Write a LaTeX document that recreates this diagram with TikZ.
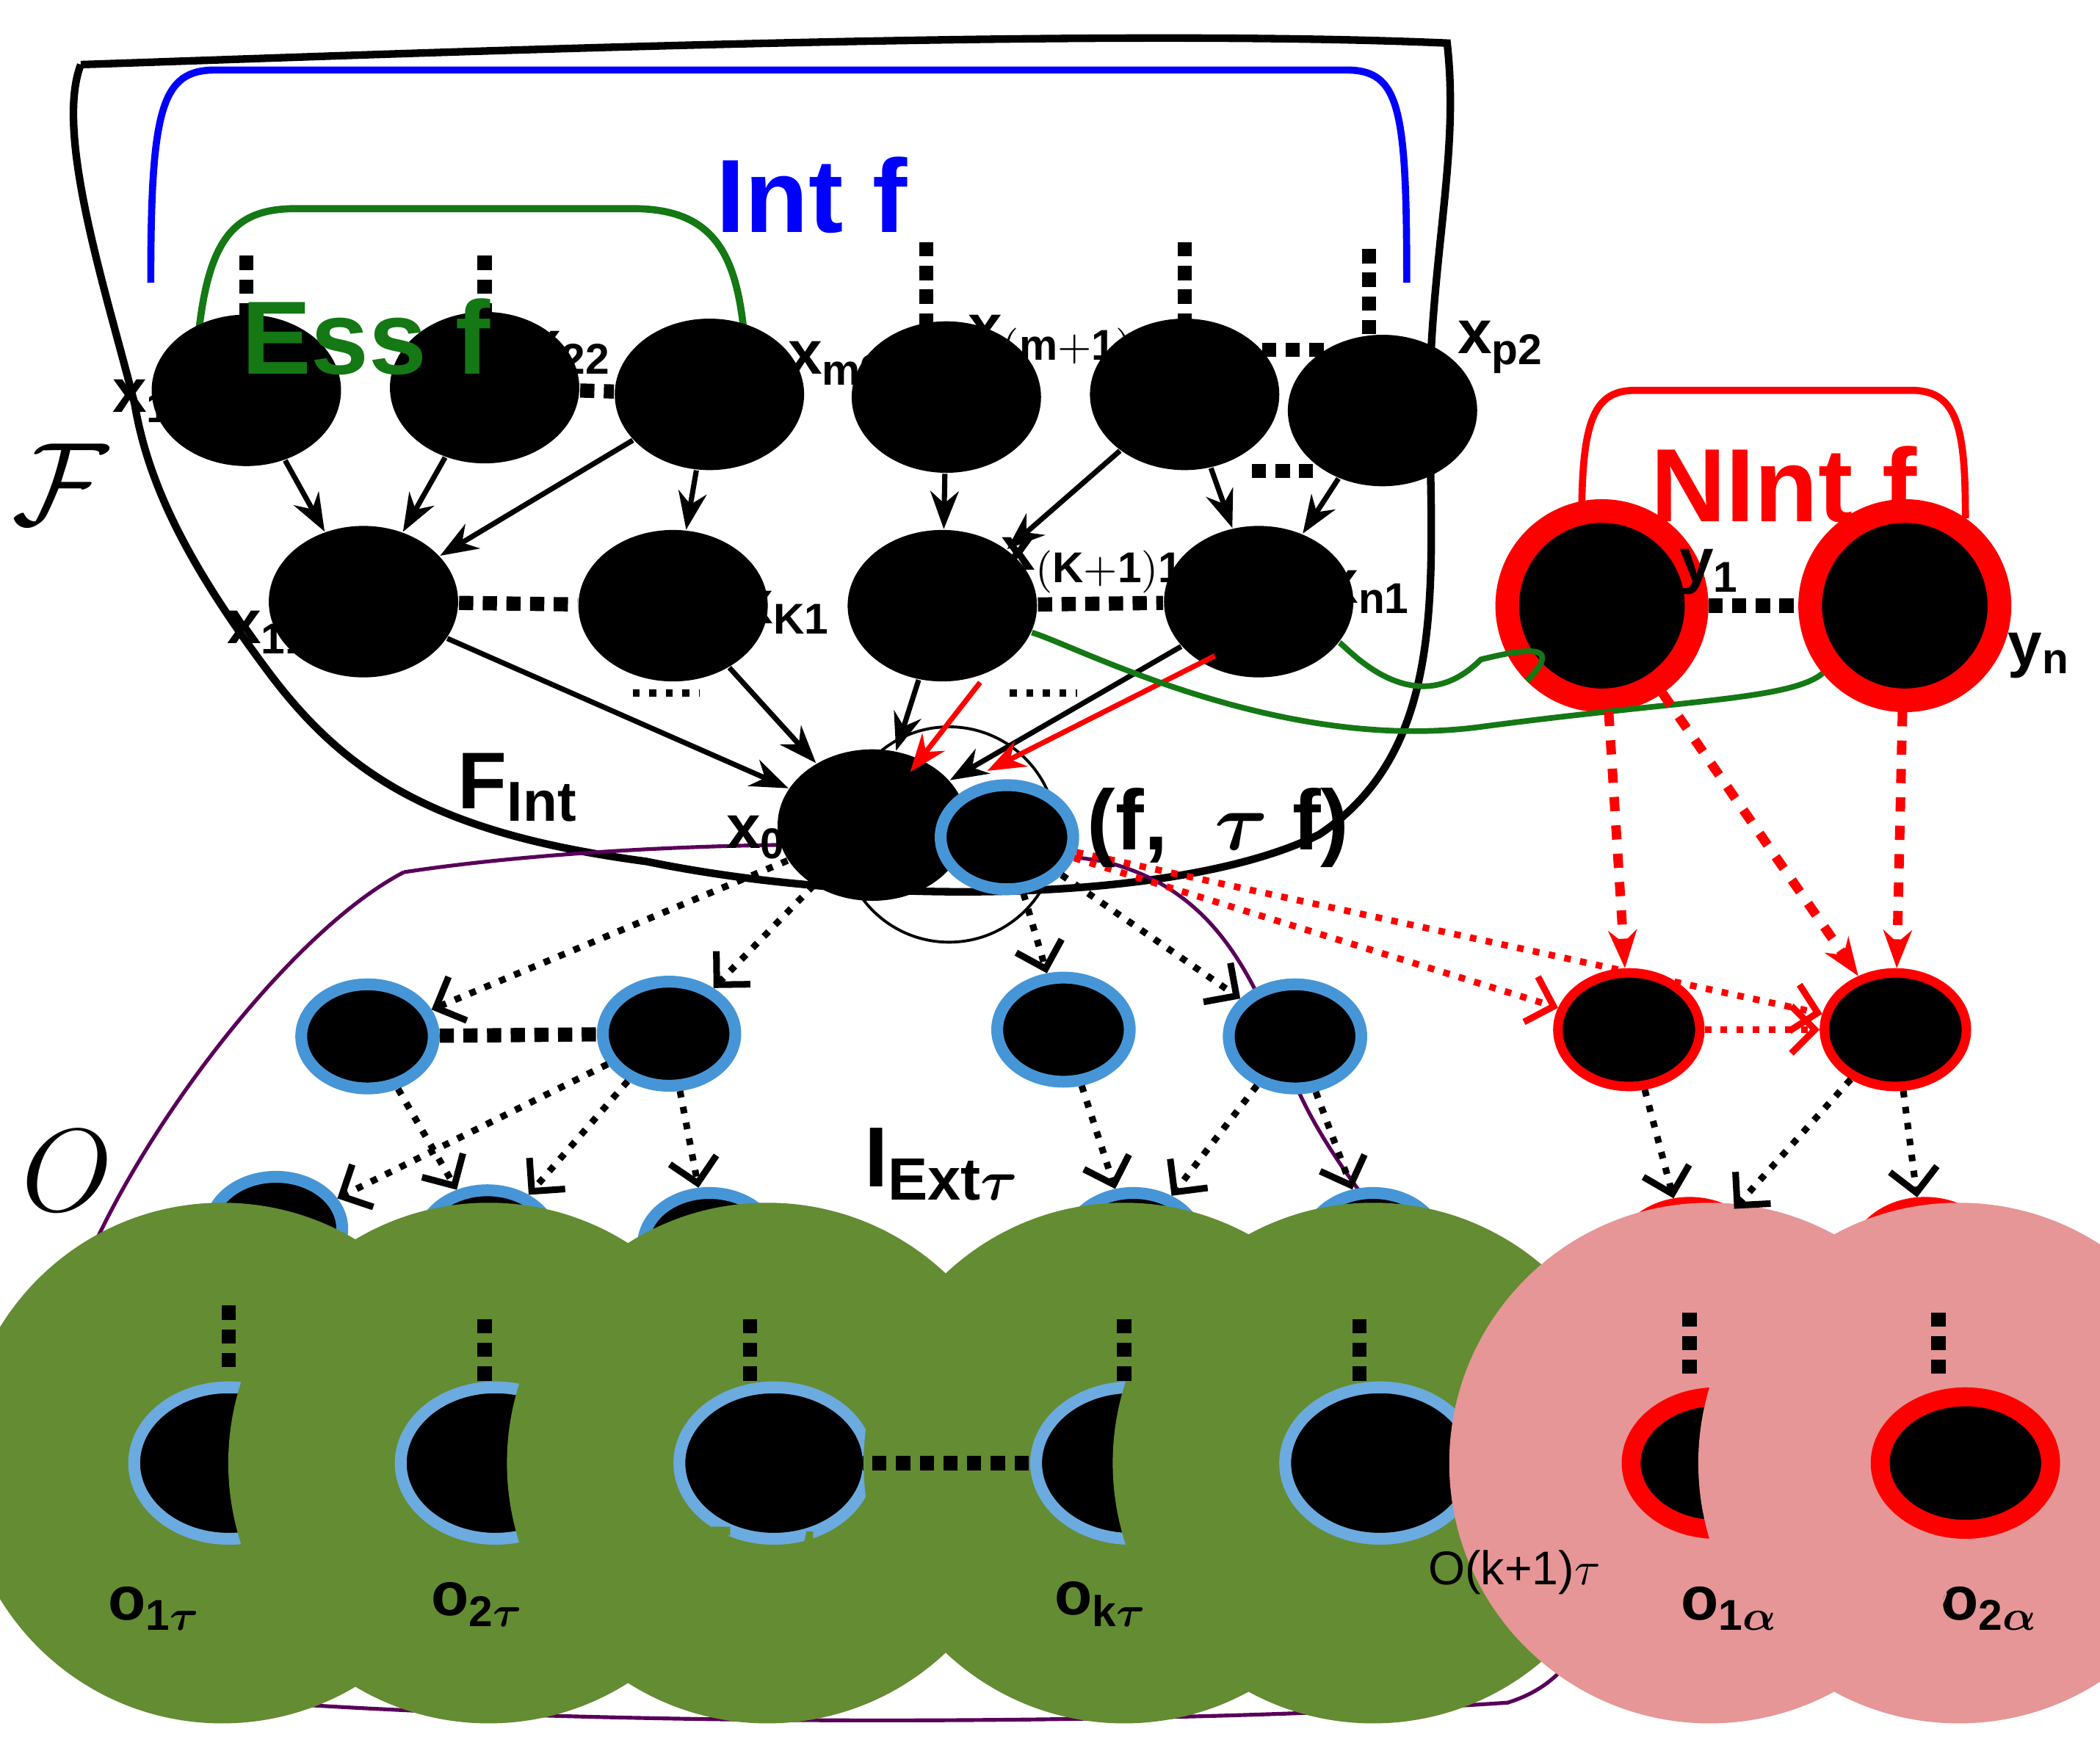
\documentclass[tikz,border=0pt]{standalone}
\usepackage{amsmath,amssymb}
\usepackage{bm}
\usepackage{fontspec}
\setmainfont{Liberation Sans}
\usetikzlibrary{shapes.geometric,arrows.meta}
\definecolor{bl}{RGB}{70,150,215}
\definecolor{gr}{RGB}{100,140,50}
\definecolor{pk}{RGB}{230,150,150}
\definecolor{dg}{RGB}{20,120,20}
\begin{document}
\begin{tikzpicture}[x=0.01cm,y=-0.01cm,
 bn/.style={ellipse,fill=black,minimum width=40,minimum height=32,inner sep=0},
 bu/.style={ellipse,fill=black,draw=bl,line width=2.5pt,minimum width=28,minimum height=22,inner sep=0},
 rr/.style={circle,fill=black,draw=red,line width=5pt,minimum size=40,inner sep=0},
 rs/.style={ellipse,fill=black,draw=red,line width=2pt,minimum width=30,minimum height=24,inner sep=0},
 gc/.style={circle,fill=gr,minimum size=110,inner sep=0},
 pc/.style={circle,fill=pk,minimum size=110,inner sep=0},
 ar/.style={-{Stealth[length=8pt]},line width=1.1pt},
 da/.style={-{Straight Barb[length=5pt]},dotted,line width=1.4pt},
 dd/.style={dotted,line width=3pt},
 lb/.style={font=\bfseries\fontsize{13}{15}\selectfont}]
\useasboundingbox (0,0) rectangle (1560,1290);
% blobs
\draw[line width=1.6pt] (60,48) .. controls (300,40) and (800,20) .. (1075,32) .. controls (1085,120) and (1060,200) .. (1062,320) .. controls (1065,450) and (1070,560) .. (980,620) .. controls (880,670) and (650,675) .. (480,640) .. controls (330,620) and (260,580) .. (200,500) .. controls (140,420) and (110,360) .. (100,300) .. controls (80,220) and (40,100) .. (60,48);
\draw[violet!70!black,line width=0.8pt] (300,648) .. controls (200,700) and (60,900) .. (45,1000) .. controls (40,1100) and (80,1230) .. (200,1265) .. controls (500,1285) and (900,1280) .. (1120,1265) .. controls (1200,1240) and (1190,1150) .. (1170,1100) .. controls (1120,1000) and (1000,900) .. (960,800) .. controls (930,720) and (900,660) .. (820,640) .. controls (700,620) and (450,625) .. (300,648);
\draw[line width=0.6pt] (705,620) circle (80);
% brackets
\draw[blue,line width=1.5pt] (112,210) .. controls (112,80) and (120,52) .. (160,52) -- (1000,52) .. controls (1040,52) and (1045,80) .. (1045,210);
\draw[dg,line width=1.5pt] (145,282) .. controls (150,180) and (170,155) .. (220,155) -- (470,155) .. controls (540,155) and (552,200) .. (555,285);
\draw[red,line width=1.5pt] (1175,385) .. controls (1175,310) and (1185,290) .. (1215,290) -- (1420,290) .. controls (1455,290) and (1460,320) .. (1460,385);
\draw[gr,line width=1.5pt] (148,1140) -- (148,1215) -- (1045,1215) -- (1045,1140);
\draw[pk,line width=1.5pt] (1210,1150) -- (1210,1220) -- (1540,1220) -- (1540,1150);
% nodes
\node[bn] (x12) at (183,290) {};
\node[bn] (x22) at (360,288) {};
\node[bn] (x32) at (527,293) {};
\node[bn] (xm2) at (703,295) {};
\node[bn] (xm12) at (880,293) {};
\node[bn] (xp2) at (1027,305) {};
\node[bn] (x11) at (270,447) {};
\node[bn] (xK1) at (500,450) {};
\node[bn] (xK11) at (700,450) {};
\node[bn] (xn1) at (935,447) {};
\node[bn] (x0) at (648,613) {};
\node[bu] (f) at (748,622) {};
\node[rr] (y1) at (1190,450) {};
\node[rr] (yn) at (1415,450) {};
\node[bu] (a1) at (273,770) {};
\node[bu] (a2) at (497,768) {};
\node[bu] (a3) at (790,765) {};
\node[bu] (a4) at (962,770) {};
\node[rs] (r1) at (1210,765) {};
\node[rs] (r2) at (1408,765) {};
\node[bu] (b1) at (205,913) {};
\node[bu] (b2) at (362,923) {};
\node[bu] (b3) at (527,925) {};
\node[bu] (b4) at (842,925) {};
\node[bu] (b5) at (1020,925) {};
\node[rs] (s1) at (1255,935) {};
\node[rs] (s2) at (1430,935) {};
\foreach \n/\x in {c1/165,c2/363,c3/570,c4/835,c5/1020}{
 \node[gc] (\n) at (\x,1087) {};
 \node[bu,minimum width=40,minimum height=32,draw=bl!80!white] at (\x+5,1087) {};}
\foreach \n/\x in {p1/1270,p2/1455}{
 \node[pc] (\n) at (\x,1087) {};
 \node[ellipse,fill=black,draw=red,line width=4pt,minimum width=36,minimum height=28,inner sep=0] at (\x+5,1087) {};}
% dotted
\draw[dd] (x22) -- (x32); \draw[dd] (x11) -- (xK1); \draw[dd] (xK11) -- (xn1);
\draw[dd] (y1) -- (yn); \draw[dd] (a1) -- (a2); \draw[dd] (c3) -- (c4);
\draw[dd] (920,260) -- (985,260); \draw[dd] (930,350) -- (975,350);
\foreach \x/\y in {183/190,360/190,688/180,880/180,1017/185}{\draw[dd] (\x,\y) -- (\x,\y+65);}
\foreach \x/\y in {170/970,360/980,557/980,835/980,1010/980,1255/975,1440/975}{\draw[dd] (\x,\y) -- (\x,\y+50);}
\draw[dotted,line width=1.5pt] (470,515) -- (520,515); \draw[dotted,line width=1.5pt] (750,515) -- (800,515);
% arrows
\foreach \a/\b in {x12/x11,x22/x11,x32/x11,x32/xK1,xm2/xK11,xm12/xK11,xm12/xn1,xp2/xn1,x11/x0,xK1/x0,xK11/x0,xn1/x0}{\draw[ar] (\a) -- (\b);}
\draw[ar,red] ([xshift=8]xK11.south) -- ([xshift=8,yshift=-5]x0.north);
\draw[ar,red] ([xshift=5]xn1.south west) -- ([xshift=10]x0.north east);
\draw[dg,line width=1.2pt] (xK11) .. controls (800,480) and (950,560) .. (1100,540) .. controls (1250,520) and (1330,520) .. (yn);
\draw[dg,line width=1.2pt] (xn1) .. controls (1000,480) and (1050,540) .. (1100,490) .. controls (1140,480) and (1160,480) .. (y1);
\foreach \b in {r1,r2}{\draw[ar,red,dashed,line width=2pt] (y1) -- (\b);}
\draw[ar,red,dashed,line width=2pt] (yn) -- (r2);
\draw[da,red] (f) -- (r1); \draw[da,red] (f) -- (r2); \draw[da,red] (r1) -- (r2);
\foreach \b in {a1,a2}{\draw[da] (x0) -- (\b);}
\foreach \b in {a3,a4}{\draw[da] (f) -- (\b);}
\foreach \a/\b in {a1/b2,a2/b1,a2/b2,a2/b3,a3/b4,a4/b4,a4/b5,r1/s1,r2/s1,r2/s2}{\draw[da] (\a) -- (\b);}
% labels
\node[lb] at (115,298) {x$_{\mathbf{12}}$};
\node[lb] at (423,262) {x$_{\mathbf{22}}$};
\node[lb] at (622,270) {x$_{\mathbf{m2}}$};
\node[lb] at (790,255) {x$_{\mathbf{(m+1)2}}$};
\node[lb] at (1115,258) {x$_{\mathbf{p2}}$};
\node[lb] at (200,470) {x$_{\mathbf{11}}$};
\node[lb] at (583,455) {x$_{\mathbf{K1}}$};
\node[lb] at (812,420) {x$_{\mathbf{(K+1)1}}$};
\node[lb] at (1016,440) {x$_{\mathbf{n1}}$};
\node[lb] at (1270,425) {y$_{\mathbf{1}}$};
\node[lb] at (1515,487) {y$_{\mathbf{n}}$};
\node[lb] at (562,622) {x$_{\mathbf{0}}$};
\node[font=\bfseries\fontsize{17}{19}\selectfont] at (385,585) {F$_{\mathbf{Int}}$};
\node[font=\bfseries\fontsize{18}{20}\selectfont] at (905,615) {(f,\ \ $\bm\tau$ f)};
\node[blue,font=\bfseries\fontsize{22}{24}\selectfont] at (603,145) {Int f};
\node[dg,font=\bfseries\fontsize{22}{24}\selectfont] at (272,250) {Ess f};
\node[red,font=\bfseries\fontsize{22}{24}\selectfont] at (1325,360) {NInt f};
\node[font=\fontsize{26}{28}\selectfont] at (45,360) {$\mathcal{F}$};
\node[font=\fontsize{26}{28}\selectfont] at (50,870) {$O$};
\node[font=\bfseries\fontsize{18}{20}\selectfont] at (700,865) {I$_{\mathbf{Ext}\bm\tau}$};
\node[lb] at (115,1195) {o$_{\mathbf{1}\bm\tau}$};
\node[lb] at (355,1192) {o$_{\mathbf{2}\bm\tau}$};
\node[lb] at (818,1192) {o$_{\mathbf{k}\bm\tau}$};
\node[font=\fontsize{10}{12}\selectfont] at (1125,1168) {O(k+1)$\tau$};
\node[lb] at (1285,1195) {o$_{\mathbf{1}\bm\alpha}$};
\node[lb] at (1478,1195) {o$_{\mathbf{2}\bm\alpha}$};
\node[gr,font=\fontsize{24}{26}\selectfont] at (570,1170) {Ext$_{\tau}$};
\node[pk,font=\fontsize{24}{26}\selectfont] at (1370,1172) {Ext$_{\alpha}$};
\end{tikzpicture}
\end{document}
